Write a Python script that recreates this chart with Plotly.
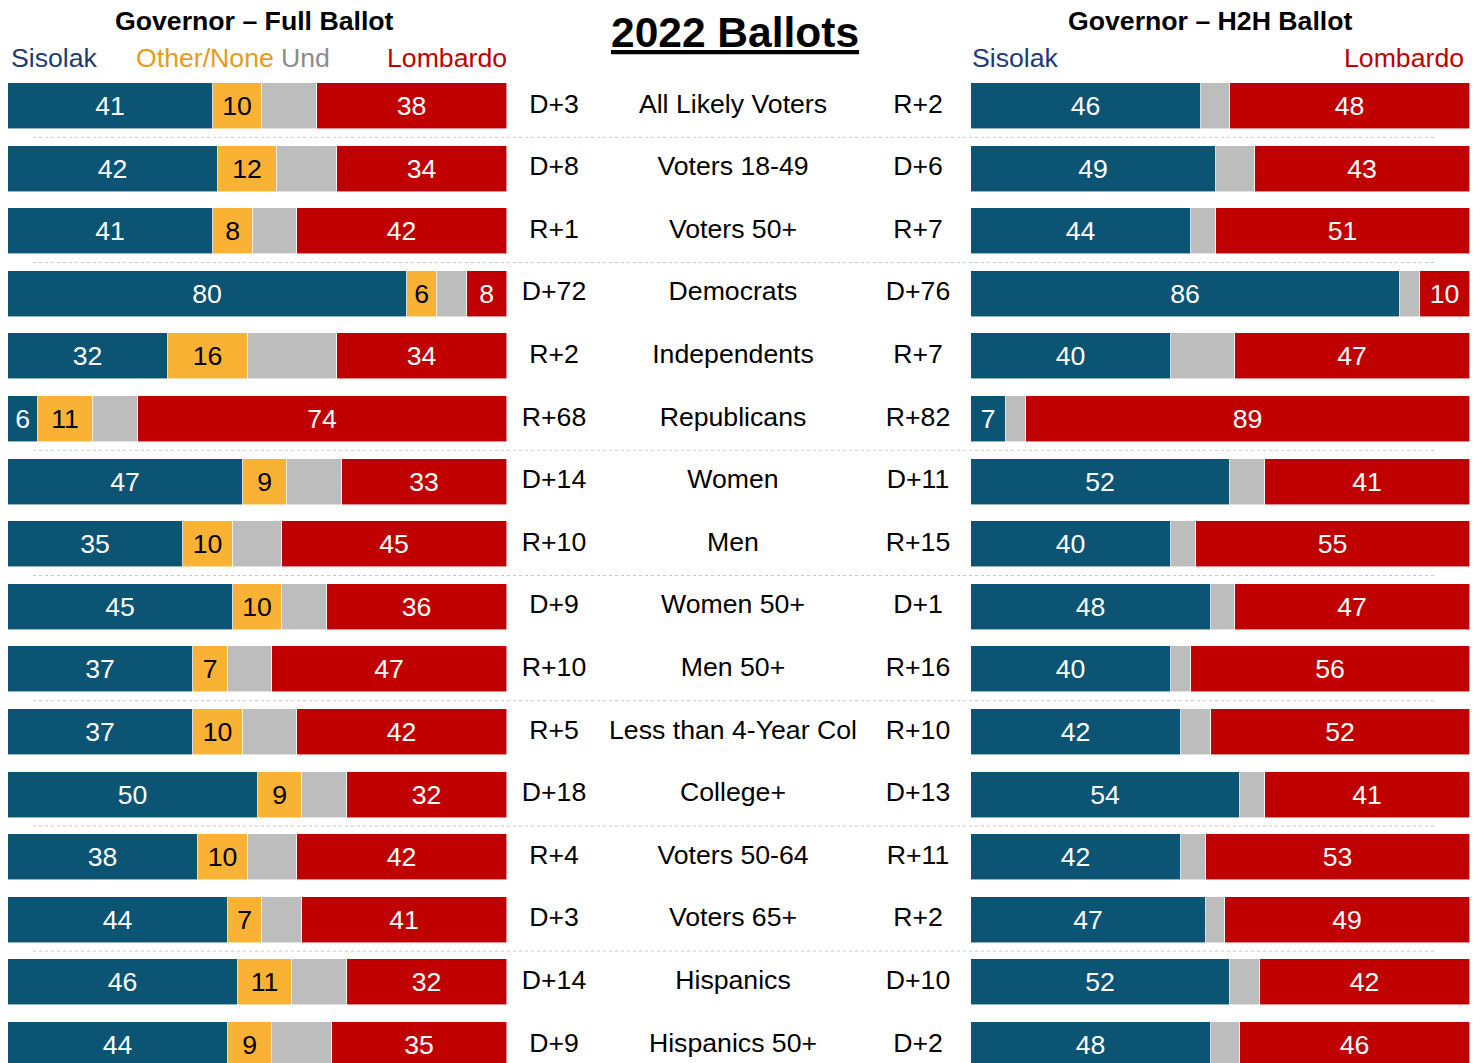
import plotly.graph_objects as go

# ---------------- data ----------------
groups = ["All Likely Voters", "Voters 18-49", "Voters 50+", "Democrats", "Independents",
          "Republicans", "Women", "Men", "Women 50+", "Men 50+", "Less than 4-Year Col",
          "College+", "Voters 50-64", "Voters 65+", "Hispanics", "Hispanics 50+"]

full_sisolak = [41, 42, 41, 80, 32, 6, 47, 35, 45, 37, 37, 50, 38, 44, 46, 44]
full_other = [10, 12, 8, 6, 16, 11, 9, 10, 10, 7, 10, 9, 10, 7, 11, 9]
full_und = [11, 12, 9, 6, 18, 9, 11, 10, 9, 9, 11, 9, 10, 8, 11, 12]
full_lombardo = [38, 34, 42, 8, 34, 74, 33, 45, 36, 47, 42, 32, 42, 41, 32, 35]
full_margin = ["D+3", "D+8", "R+1", "D+72", "R+2", "R+68", "D+14", "R+10", "D+9", "R+10",
               "R+5", "D+18", "R+4", "D+3", "D+14", "D+9"]

h2h_sisolak = [46, 49, 44, 86, 40, 7, 52, 40, 48, 40, 42, 54, 42, 47, 52, 48]
h2h_und = [6, 8, 5, 4, 13, 4, 7, 5, 5, 4, 6, 5, 5, 4, 6, 6]
h2h_lombardo = [48, 43, 51, 10, 47, 89, 41, 55, 47, 56, 52, 41, 53, 49, 42, 46]
h2h_margin = ["R+2", "D+6", "R+7", "D+76", "R+7", "R+82", "D+11", "R+15", "D+1", "R+16",
              "R+10", "D+13", "R+11", "R+2", "D+10", "D+2"]

separator_after = [0, 2, 5, 7, 9, 11, 13]

# ---------------- styling ----------------
W, H = 1481, 1063
FONT = "Arial, Liberation Sans, sans-serif"
FS = 26.67
BLUE, ORANGE, GRAY, RED = "#0C5474", "#F9B234", "#BDBDBD", "#C00000"
NAVY_TXT, ORANGE_TXT, GRAY_TXT = "#1F3A75", "#E69B1F", "#8C8C8C"
ROW0, STEP = 106.0, 62.6  # pixel centre of first row, row pitch

rows = list(range(len(groups)))
fig = go.Figure()


def add_bar(vals, color, textcolor, xaxis, show_text=True):
    fig.add_trace(go.Bar(
        x=vals, y=rows, orientation="h", xaxis=xaxis, yaxis="y",
        marker=dict(color=color, line=dict(color="rgba(255,255,255,0.7)", width=0.8)),
        width=46 / STEP,
        text=[str(v) for v in vals] if show_text else None,
        textposition="inside" if show_text else "none",
        insidetextanchor="middle",
        constraintext="none",
        textfont=dict(family=FONT, size=FS, color=textcolor),
        hoverinfo="skip", showlegend=False))


add_bar(full_sisolak, BLUE, "white", "x")
add_bar(full_other, ORANGE, "black", "x")
add_bar(full_und, GRAY, "black", "x", show_text=False)
add_bar(full_lombardo, RED, "white", "x")

add_bar(h2h_sisolak, BLUE, "white", "x2")
add_bar(h2h_und, GRAY, "black", "x2", show_text=False)
add_bar(h2h_lombardo, RED, "white", "x2")

# centre columns (x3 measured in pixels of the page)
for col_x, labels in [(554, full_margin), (733, groups), (918, h2h_margin)]:
    fig.add_trace(go.Scatter(
        x=[col_x] * len(labels), y=rows, mode="text", text=labels,
        textposition="middle center", xaxis="x3", yaxis="y",
        textfont=dict(family=FONT, size=FS, color="black"),
        hoverinfo="skip", showlegend=False))

shapes = []
for r in separator_after:
    shapes.append(dict(type="line", xref="paper", yref="y", x0=33 / W, x1=1435 / W,
                       y0=r + 0.5, y1=r + 0.5,
                       line=dict(color="#C8C8C8", width=1, dash="dot")))


def ann(text, xpx, ypx, size, color="black", xanchor="center", bold=False):
    return dict(text=f"<b>{text}</b>" if bold else text, xref="paper", yref="paper",
                x=xpx / W, y=1 - ypx / H, xanchor=xanchor, yanchor="middle",
                showarrow=False, font=dict(family=FONT, size=size, color=color))


annotations = [
    ann("Governor – Full Ballot", 254, 21, FS, bold=True),
    ann("<u>2022 Ballots</u>", 735, 32, 42.5, bold=True),
    ann("Governor – H2H Ballot", 1210, 21, FS, bold=True),
    ann("Sisolak", 9, 58, FS, NAVY_TXT, xanchor="left"),
    ann("Other/None", 134, 58, FS, ORANGE_TXT, xanchor="left"),
    ann("Und", 279, 58, FS, GRAY_TXT, xanchor="left"),
    ann("Lombardo", 509, 58, FS, RED, xanchor="right"),
    ann("Sisolak", 970, 58, FS, NAVY_TXT, xanchor="left"),
    ann("Lombardo", 1466, 58, FS, RED, xanchor="right"),
]

fig.update_layout(
    width=W, height=H, margin=dict(l=0, r=0, t=0, b=0),
    paper_bgcolor="white", plot_bgcolor="white",
    barmode="stack", bargap=0,
    xaxis=dict(domain=[8 / W, 507 / W], range=[0, 100], visible=False, anchor="y", fixedrange=True),
    xaxis2=dict(domain=[971 / W, 1470 / W], range=[0, 100], visible=False, anchor="y", fixedrange=True),
    xaxis3=dict(domain=[507 / W, 971 / W], range=[507, 971], visible=False, anchor="y", fixedrange=True),
    yaxis=dict(domain=[0, 1], range=[(H - ROW0) / STEP, -ROW0 / STEP], visible=False, fixedrange=True),
    shapes=shapes, annotations=annotations,
)

fig.write_html("out.html", config={"displayModeBar": False},
               post_script="document.body.style.margin='0px';document.body.style.overflow='hidden';")
